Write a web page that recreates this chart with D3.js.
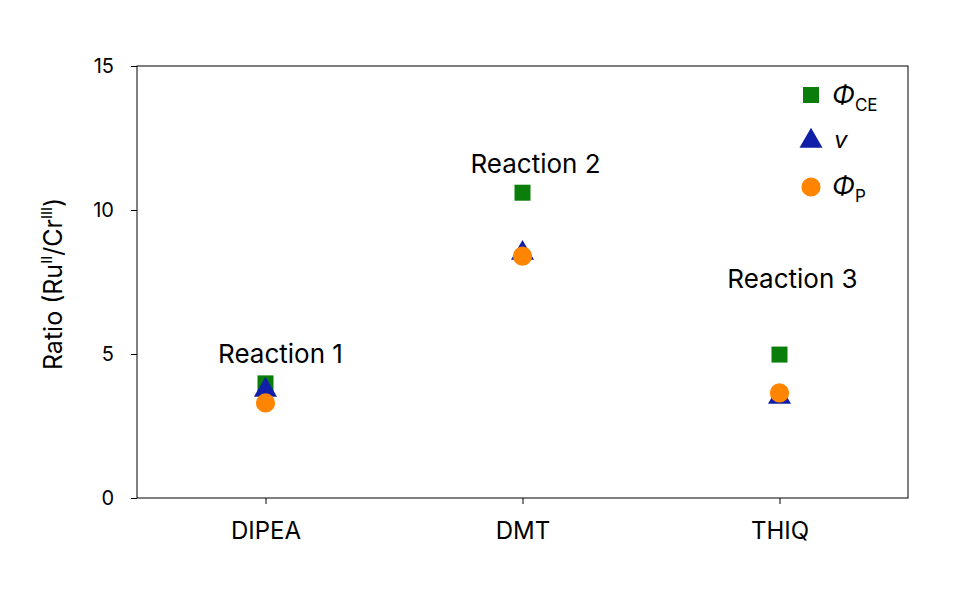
<!DOCTYPE html>
<html><head><meta charset="utf-8">
<script src="https://cdn.jsdelivr.net/npm/d3@7"></script>
<style>body{margin:0;background:#fff}text{font-family:Inter,"Noto Sans",sans-serif}</style>
</head><body><svg id="c" width="956" height="609"></svg>
<script>
const categories = ["DIPEA","DMT","THIQ"];
const phiCE = [3.98, 10.6, 4.98];
const nu = [3.75, 8.5, 3.5];
const phiP = [3.3, 8.4, 3.65];
const yTicks = [0,5,10,15];
const reactionLabels = ["Reaction 1","Reaction 2","Reaction 3"];
const labelY = [4.7, 11.3, 7.3];

const svg = d3.select("#c");
const m = {l:137, r:908, t:66, b:498};
const x = d3.scalePoint().domain(categories).range([m.l, m.r]).padding(0.5);
const y = d3.scaleLinear().domain([0,15]).range([m.b, m.t]);

svg.append("rect").attr("x",m.l).attr("y",m.t).attr("width",m.r-m.l).attr("height",m.b-m.t)
  .attr("fill","none").attr("stroke","#000").attr("stroke-width",1);
const ya = svg.append("g").attr("transform",`translate(${m.l},0)`).call(d3.axisLeft(y).tickValues(yTicks).tickSize(6).tickPadding(17));
const xa = svg.append("g").attr("transform",`translate(0,${m.b})`).call(d3.axisBottom(x).tickSize(6).tickPadding(18));
[ya,xa].forEach(a=>{a.select(".domain").remove();a.selectAll("text").attr("fill","#000").attr("font-family","Inter,'Noto Sans',sans-serif");});
ya.selectAll("text").attr("font-size",20);
xa.selectAll("text").attr("font-size",24);

const t = svg.append("text").attr("transform","translate(62,284) rotate(-90)").attr("text-anchor","middle").attr("font-size",25);
t.append("tspan").text("Ratio (Ru");
t.append("tspan").attr("font-size",15).attr("dy",-10).text("II");
t.append("tspan").attr("dy",10).text("/Cr");
t.append("tspan").attr("font-size",15).attr("dy",-10).text("III");
t.append("tspan").attr("dy",10).text(")");

const sq = d3.symbol().type(d3.symbolSquare).size(256);
const tri = d3.symbol().type(d3.symbolTriangle).size(230);
const cir = d3.symbol().type(d3.symbolCircle).size(290);
const g = svg.append("g");
g.selectAll(".s").data(categories).join("path").attr("d",sq).attr("fill","#0a7d0a")
  .attr("transform",(d,i)=>`translate(${x(d)},${y(phiCE[i])})`);
g.selectAll(".t").data(categories).join("path").attr("d",tri).attr("fill","#1020a8")
  .attr("transform",(d,i)=>`translate(${x(d)},${y(nu[i])})`);
g.selectAll(".c").data(categories).join("path").attr("d",cir).attr("fill","#ff8400")
  .attr("transform",(d,i)=>`translate(${x(d)},${y(phiP[i])})`);

svg.selectAll(".rl").data(categories).join("text").attr("text-anchor","middle").attr("font-size",26)
  .attr("x",(d,i)=>x(d)+[15,13,13][i]).attr("y",(d,i)=>y(labelY[i])).text((d,i)=>reactionLabels[i]);

// legend
const lx=811;
svg.append("path").attr("d",sq).attr("fill","#0a7d0a").attr("transform",`translate(${lx},95)`);
svg.append("path").attr("d",tri).attr("fill","#1020a8").attr("transform",`translate(${lx},141)`);
svg.append("path").attr("d",cir).attr("fill","#ff8400").attr("transform",`translate(${lx},187)`);
const l1=svg.append("text").attr("x",832).attr("y",104).attr("font-size",26);
l1.append("tspan").attr("font-style","italic").text("Φ");
l1.append("tspan").attr("font-size",17).attr("dy",7).text("CE");
svg.append("text").attr("x",834).attr("y",148).attr("font-size",24).attr("font-style","italic").text("v");
const l3=svg.append("text").attr("x",832).attr("y",195).attr("font-size",26);
l3.append("tspan").attr("font-style","italic").text("Φ");
l3.append("tspan").attr("font-size",17).attr("dy",7).text("P");
</script></body></html>
